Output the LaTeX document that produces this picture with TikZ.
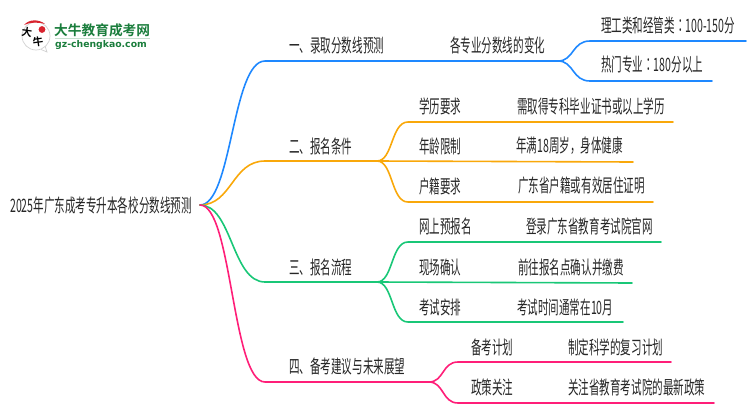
\documentclass[tikz,border=0pt]{standalone}
\usepackage{xcolor}
\usepackage{fontspec}
\usepackage{tikz}
\setmainfont{Noto Sans CJK SC}[FakeStretch=0.57]
\newfontfamily\punctfont{Noto Sans CJK KR}[FakeStretch=0.57]
\newfontfamily\logofont{Noto Sans CJK SC Bold}
\newfontfamily\latinfont{DejaVu Sans Bold}
\definecolor{lineblue}{HTML}{1E88FF}
\definecolor{lineorange}{HTML}{F9A80A}
\definecolor{linegreen}{HTML}{19C777}
\definecolor{linepink}{HTML}{FF1E78}
\definecolor{logogreen}{HTML}{1A7D3C}
\definecolor{logored}{HTML}{D9232E}
\tikzstyle{topic} = [anchor=west, inner sep=0pt, font=\fontsize{18.5}{18.5}\selectfont, text=black!85]
\tikzstyle{branch} = [line width=1.6pt, line cap=round]
\newcommand{\colonmark}{{\punctfont ：}}
\newcommand{\commamark}{{\punctfont ，}}

\begin{document}
\begin{tikzpicture}[x=1pt,y=-1pt]
\useasboundingbox (0,0) rectangle (750,410);

% logo
\draw[black!18, line width=0.7pt] (36,36) circle (14);
\draw[black!18, line width=0.7pt] (41,49.5) -- (47,52) -- (45,46);
\fill[logored] (24,25) .. controls (29,19) and (39,19) .. (45,24) .. controls (39,22) and (30,22) .. (24,25);
\fill[logored] (42,29.5) circle (3.4);
\node[inner sep=0pt, rotate=-8, font=\logofont\fontsize{10.5}{10.5}\selectfont] (logoda) at (27,32) {大};
\node[inner sep=0pt, rotate=8, font=\logofont\fontsize{10.5}{10.5}\selectfont] (logoniu) at (38,42) {牛};
\node[anchor=west, inner sep=0pt, text=logogreen, font=\logofont\fontsize{13.7}{14}\selectfont] (logotitle) at (54,30) {大牛教育成考网};
\draw[logogreen!25, line width=0.6pt] (55,38.5) -- (150,38.5);
\node[anchor=west, inner sep=0pt, text=logogreen, font=\latinfont\fontsize{9.3}{10}\selectfont] (logourl) at (55,45) {gz-chengkao.com};

% root
\node[topic, anchor=east, inner xsep=8pt] (root) at (200,205) {2025年广东成考专升本各校分数线预测};

% first branch
\node[topic] (one) at (289,45) {一、录取分数线预测};
\node[topic] (onea) at (450,45) {各专业分数线的变化};
\node[topic] (oneaa) at (601,25) {理工类和经管类\colonmark 100-150分};
\node[topic] (oneab) at (601,65) {热门专业\colonmark 180分以上};
\coordinate (onestart) at (265,61);
\coordinate (onefork) at (558,61);
\coordinate (oneaastart) at (590,41);
\coordinate (oneaaend) at (746,41);
\coordinate (oneabstart) at (590,81);
\coordinate (oneabend) at (712,81);
\draw[branch, lineblue] (root.east) .. controls (232,205) and (232,61) .. (onestart) -- (onefork);
\draw[branch, lineblue] (onefork) .. controls (574,61) and (572,41) .. (oneaastart) -- (oneaaend);
\draw[branch, lineblue] (onefork) .. controls (574,61) and (572,81) .. (oneabstart) -- (oneabend);

% second branch
\node[topic] (two) at (289,146) {二、报名条件};
\node[topic] (twoa) at (419,106) {学历要求};
\node[topic] (twoaa) at (517,106) {需取得专科毕业证书或以上学历};
\node[topic] (twob) at (419,146) {年龄限制};
\node[topic] (twoba) at (516,146) {年满18周岁\commamark 身体健康};
\node[topic] (twoc) at (419,186) {户籍要求};
\node[topic] (twoca) at (518,186) {广东省户籍或有效居住证明};
\coordinate (twostart) at (265,161);
\coordinate (twofork) at (377,161);
\coordinate (twoastart) at (408,122);
\coordinate (twoaend) at (673,122);
\coordinate (twobend) at (633,162);
\coordinate (twocstart) at (408,202);
\coordinate (twocend) at (653,202);
\draw[branch, lineorange] (root.east) .. controls (232,205) and (232,161) .. (twostart) -- (twofork);
\draw[branch, lineorange] (twofork) .. controls (393,161) and (391,122) .. (twoastart) -- (twoaend);
\draw[branch, lineorange] (twofork) -- (twobend);
\draw[branch, lineorange] (twofork) .. controls (393,161) and (391,202) .. (twocstart) -- (twocend);

% third branch
\node[topic] (three) at (289,267) {三、报名流程};
\node[topic] (threea) at (419,226) {网上预报名};
\node[topic] (threeaa) at (526,226) {登录广东省教育考试院官网};
\node[topic] (threeb) at (419,267) {现场确认};
\node[topic] (threeba) at (518,267) {前往报名点确认并缴费};
\node[topic] (threec) at (419,307) {考试安排};
\node[topic] (threeca) at (517,307) {考试时间通常在10月};
\coordinate (threestart) at (265,282);
\coordinate (threefork) at (377,282);
\coordinate (threeastart) at (408,242);
\coordinate (threeaend) at (661,242);
\coordinate (threebend) at (632,283);
\coordinate (threecstart) at (408,322);
\coordinate (threecend) at (623,322);
\draw[branch, linegreen] (root.east) .. controls (232,205) and (232,282) .. (threestart) -- (threefork);
\draw[branch, linegreen] (threefork) .. controls (393,282) and (391,242) .. (threeastart) -- (threeaend);
\draw[branch, linegreen] (threefork) -- (threebend);
\draw[branch, linegreen] (threefork) .. controls (393,282) and (391,322) .. (threecstart) -- (threecend);

% fourth branch
\node[topic] (four) at (289,367) {四、备考建议与未来展望};
\node[topic] (foura) at (471,347) {备考计划};
\node[topic] (fouraa) at (568,347) {制定科学的复习计划};
\node[topic] (fourb) at (471,387) {政策关注};
\node[topic] (fourba) at (568,387) {关注省教育考试院的最新政策};
\coordinate (fourstart) at (265,382);
\coordinate (fourfork) at (429,382);
\coordinate (fouraastart) at (458,362);
\coordinate (fouraaend) at (671,362);
\coordinate (fourbastart) at (458,403);
\coordinate (fourbaend) at (714,403);
\draw[branch, linepink] (root.east) .. controls (232,205) and (232,382) .. (fourstart) -- (fourfork);
\draw[branch, linepink] (fourfork) .. controls (444,382) and (442,362) .. (fouraastart) -- (fouraaend);
\draw[branch, linepink] (fourfork) .. controls (444,382) and (442,403) .. (fourbastart) -- (fourbaend);
\end{tikzpicture}
\end{document}
